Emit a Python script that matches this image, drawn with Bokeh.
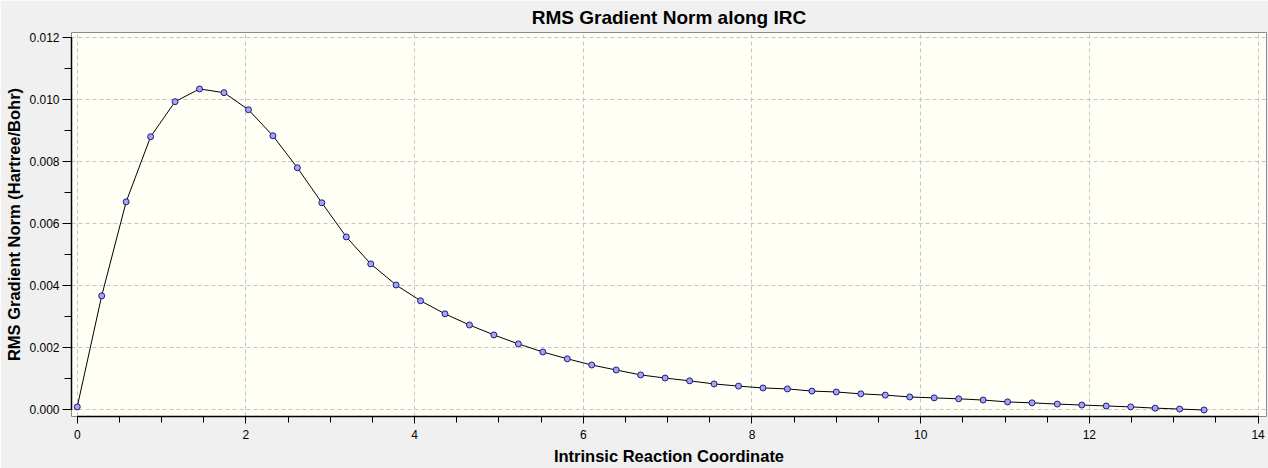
from bokeh.plotting import figure
from bokeh.models import Range1d, SingleIntervalTicker, PrintfTickFormatter
from bokeh.embed import file_html
from bokeh.resources import INLINE

# Intrinsic reaction coordinate (x) and RMS gradient norm (y)
irc = [0.00, 0.29, 0.58, 0.87, 1.16, 1.45, 1.74, 2.03, 2.32, 2.61,
       2.90, 3.19, 3.48, 3.78, 4.07, 4.36, 4.65, 4.94, 5.23, 5.52,
       5.81, 6.10, 6.39, 6.68, 6.97, 7.26, 7.55, 7.84, 8.13, 8.42,
       8.71, 9.00, 9.29, 9.58, 9.87, 10.16, 10.45, 10.74, 11.03, 11.32,
       11.62, 11.91, 12.20, 12.49, 12.78, 13.07, 13.36]
rms_grad = [0.00010, 0.00368, 0.00671, 0.00881, 0.00994, 0.01035, 0.01023, 0.00968, 0.00884, 0.00781,
            0.00668, 0.00558, 0.00471, 0.00403, 0.00352, 0.00310, 0.00274, 0.00242, 0.00213, 0.00187,
            0.00165, 0.00145, 0.00129, 0.00113, 0.00103, 0.00094, 0.00084, 0.00077, 0.00071, 0.00068,
            0.00061, 0.00058, 0.00052, 0.00048, 0.00042, 0.00039, 0.00036, 0.00032, 0.00026, 0.00023,
            0.00019, 0.00016, 0.00013, 0.00010, 0.00006, 0.00003, 0.00000]

title_text = "RMS Gradient Norm along IRC"
x_label = "Intrinsic Reaction Coordinate"
y_label = "RMS Gradient Norm (Hartree/Bohr)"

FONT = "Liberation Sans"

p = figure(width=1268, height=468, output_backend="svg", toolbar_location=None,
           x_range=Range1d(-0.068, 14.10), y_range=Range1d(-0.00021, 0.01217),
           title=title_text,
           min_border_left=71, min_border_right=2, min_border_top=32, min_border_bottom=52)

p.background_fill_color = "#fffff5"
p.border_fill_color = "#f0f0f0"
p.outline_line_color = "#8a8a8a"
p.outline_line_width = 1

p.title.align = "center"
p.title.text_font = FONT
p.title.text_font_size = "19px"
p.title.text_font_style = "bold"
p.title.text_color = "#000000"
p.title.standoff = 9
p.title.offset = 0

# axes
p.xaxis.ticker = SingleIntervalTicker(interval=2, num_minor_ticks=4)
p.yaxis.ticker = SingleIntervalTicker(interval=0.002, num_minor_ticks=2)
p.yaxis.formatter = PrintfTickFormatter(format="%.3f")
p.xaxis.formatter = PrintfTickFormatter(format="%d")
p.xaxis.bounds = (0, 14)
p.yaxis.bounds = (0, 0.012)

for ax in (p.xaxis[0], p.yaxis[0]):
    ax.axis_line_color = "#000000"
    ax.axis_line_width = 1.5
    ax.major_tick_line_color = "#000000"
    ax.minor_tick_line_color = "#000000"
    ax.major_tick_in = 0
    ax.minor_tick_in = 0
    ax.major_label_text_font = FONT
    ax.major_label_text_font_size = "12px"
    ax.major_label_text_color = "#000000"
    ax.axis_label_text_font = FONT
    ax.axis_label_text_font_size = "16.5px"
    ax.axis_label_text_font_style = "bold"
    ax.axis_label_text_color = "#000000"

p.yaxis.major_tick_out = 9
p.yaxis.minor_tick_out = 7
p.yaxis.major_label_standoff = 3
p.yaxis.axis_label_standoff = 3
p.xaxis.major_tick_out = 7
p.xaxis.minor_tick_out = 6
p.xaxis.major_label_standoff = 6
p.xaxis.axis_label_standoff = 5

p.xaxis.axis_label = x_label
p.yaxis.axis_label = y_label

# grid
p.grid.grid_line_color = "#c4c4c4"
p.grid.grid_line_dash = "4 3"
p.grid.grid_line_width = 1

p.line(irc, rms_grad, line_color="#000000", line_width=1)
p.scatter(irc, rms_grad, size=6, marker="circle", fill_color="#a4a4f0",
          line_color="#1c1c80", line_width=1)

open("out.html", "w").write(file_html(p, INLINE))
